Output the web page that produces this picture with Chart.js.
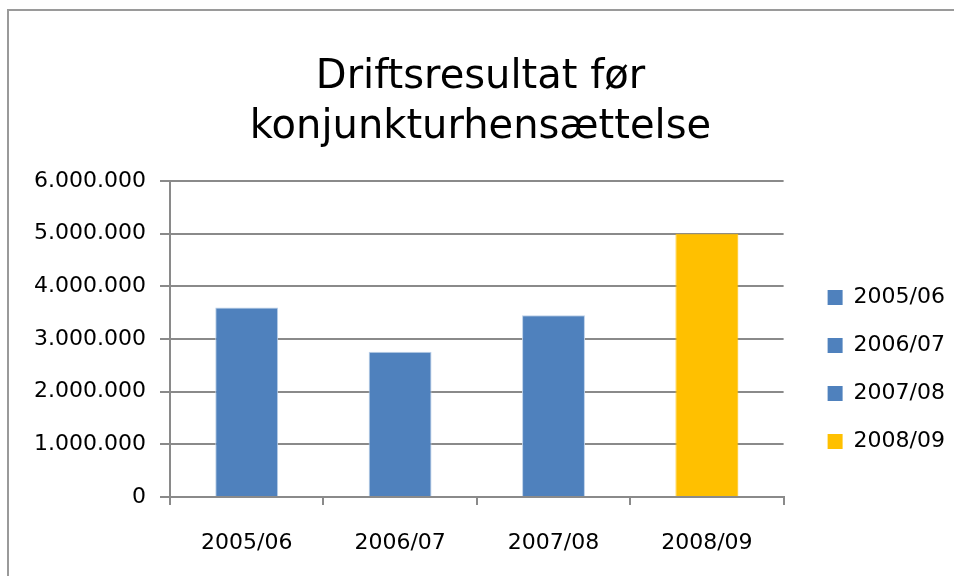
<!DOCTYPE HTML>
<html>
<head>
  <title>Driftsresultat før konjunkturhensættelse</title>
  <script src="https://cdn.jsdelivr.net/npm/chart.js"></script>
  <style>
    body { margin: 0; background: #fff; }
    .wrap { position: relative; width: 954px; height: 576px; overflow: hidden; }
    .frame { position: absolute; left: 7px; top: 9px; width: 1000px; height: 1000px; border: 2px solid #9a9a9a; }
    canvas { position: absolute; left: 0; top: 0; }
  </style>
</head>
<body>
  <div class="wrap">
    <div class="frame"></div>
    <canvas id="chart" width="954" height="576"></canvas>
  </div>
  <script>
    // data
    const titleLines = ['Driftsresultat før', 'konjunkturhensættelse'];
    const years = ['2005/06', '2006/07', '2007/08', '2008/09'];
    const result = [3600000, 2760000, 3450000, 5000000];
    const barColors = ['#4f81bd', '#4f81bd', '#4f81bd', '#ffc000'];
    const edgeColors = ['#bcd0e8', '#bcd0e8', '#bcd0e8', '#ffc000'];

    const font = "'DejaVu Sans', sans-serif";
    const fmt = v => String(v).replace(/\B(?=(\d{3})+(?!\d))/g, '.');

    // nudge the legend without changing the plot area
    const legendShift = {
      id: 'legendShift',
      afterLayout(chart) {
        const lg = chart.legend;
        lg.left += 18; lg.right += 18;
        lg.top += 55; lg.bottom += 55;
      }
    };

    new Chart(document.getElementById('chart'), {
      type: 'bar',
      data: {
        labels: years,
        datasets: [{
          data: result,
          backgroundColor: barColors,
          borderColor: edgeColors,
          borderWidth: 1,
          barPercentage: 0.41,
          categoryPercentage: 1
        }]
      },
      options: {
        responsive: false,
        animation: false,
        layout: { padding: { left: 24, right: 17, top: 53, bottom: 0 } },
        plugins: {
          title: {
            display: true,
            text: titleLines,
            color: '#000',
            font: { family: font, size: 40, weight: 'normal', lineHeight: 1.25 },
            padding: { top: 0, bottom: 28 }
          },
          legend: {
            position: 'right',
            labels: {
              color: '#000',
              font: { family: font, size: 22 },
              boxWidth: 15,
              boxHeight: 15,
              padding: 26,
              generateLabels: chart => years.map((y, i) => ({
                text: y,
                fillStyle: barColors[i],
                strokeStyle: barColors[i],
                lineWidth: 0,
                index: i
              }))
            }
          },
          tooltip: { enabled: false }
        },
        scales: {
          x: {
            offset: true,
            afterFit: axis => { axis.height = 79; },
            grid: { offset: true, drawOnChartArea: false, color: '#8a8a8a', lineWidth: 2, tickLength: 8 },
            border: { color: '#8a8a8a', width: 2 },
            ticks: { color: '#000', font: { family: font, size: 22 }, padding: 25 }
          },
          y: {
            min: 0,
            max: 6000000,
            afterFit: axis => { axis.width = 146; },
            grid: { color: '#8a8a8a', lineWidth: 2, tickLength: 10 },
            border: { color: '#8a8a8a', width: 2 },
            ticks: {
              stepSize: 1000000,
              color: '#000',
              font: { family: font, size: 22 },
              padding: 14,
              callback: v => fmt(v)
            }
          }
        }
      },
      plugins: [legendShift]
    });
  </script>
</body>
</html>
